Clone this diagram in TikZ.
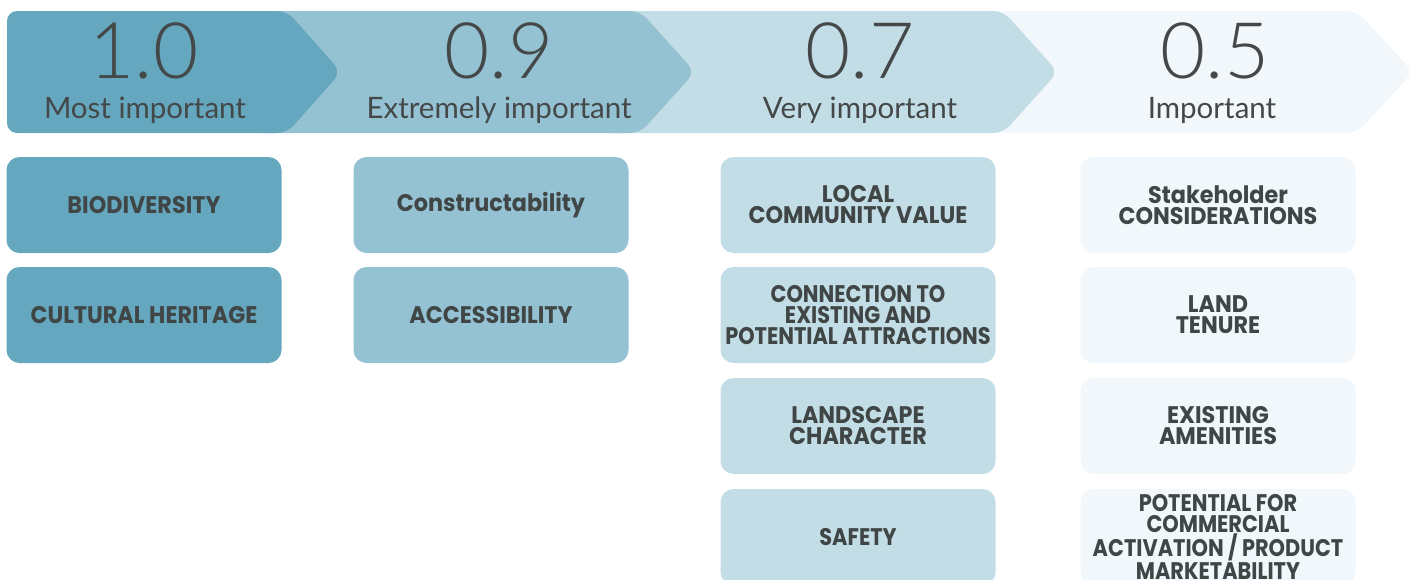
\documentclass[tikz,border=0pt]{standalone}
\usepackage{fontspec}
\setmainfont{Lato}
\newfontfamily\headfont{Lato Light}
\newfontfamily\labfont{Lato}
\newfontfamily\boxfont[FakeStretch=0.93]{Poppins}
\newfontfamily\condfont[FakeStretch=0.87]{Poppins}
\definecolor{cA}{HTML}{64A7BE}
\definecolor{cB}{HTML}{94C2D3}
\definecolor{cC}{HTML}{C2DDE5}
\definecolor{cD}{HTML}{F1F7FA}
\definecolor{hd}{HTML}{444848}
\definecolor{txt}{HTML}{404545}
\begin{document}
\begin{tikzpicture}[x=1pt,y=-1pt,
  chev/.style={rounded corners=10pt},
  box/.style={rounded corners=13pt, minimum width=275pt, minimum height=96pt, inner sep=0pt, align=center, text=txt, font=\boxfont\bfseries\fontsize{24}{21}\selectfont},
  cond/.style={font=\condfont\bfseries\fontsize{24}{21}\selectfont},
  num/.style={anchor=base, text=hd, font=\headfont\fontsize{78}{78}\selectfont, inner sep=0pt},
  lab/.style={anchor=base, text=hd, font=\labfont\fontsize{29.5}{29.5}\selectfont, inner sep=0pt}]
\useasboundingbox (0,0) rectangle (1414,579);
\clip (0,0) rectangle (1414,579);
\fill[cD, chev] (960,11) -- (1357,11) -- (1413,72) -- (1357,133) -- (960,133) -- cycle;
\fill[cC, chev] (600,11) -- (1003,11) -- (1058,72) -- (1003,133) -- (600,133) -- cycle;
\fill[cB, chev] (250,11) -- (640,11) -- (695,72) -- (640,133) -- (250,133) -- cycle;
\fill[cA, chev] (7,11) -- (287,11) -- (341,72) -- (287,133) -- (7,133) -- cycle;
\node[num] (n1) at (144,78) {1.0};
\node[lab] (l1) at (145,118) {Most important};
\node[num] (n2) at (499,78) {0.9};
\node[lab] (l2) at (499,118) {Extremely important};
\node[num] (n3) at (860,78) {0.7};
\node[lab] (l3) at (860,118) {Very important};
\node[num] (n4) at (1215,78) {0.5};
\node[lab] (l4) at (1212,118) {Important};
\node[box, fill=cA] (a1) at (144,205) {BIODIVERSITY};
\node[box, fill=cA] (a2) at (144,315) {CULTURAL HERITAGE};
\node[box, fill=cB] (b1) at (491,205) {Constructability};
\node[box, fill=cB] (b2) at (491,315) {ACCESSIBILITY};
\node[box, fill=cC] (c1) at (858,205) {LOCAL\\COMMUNITY VALUE};
\node[box, cond, fill=cC] (c2) at (858,315) {CONNECTION TO\\EXISTING AND\\POTENTIAL ATTRACTIONS};
\node[box, fill=cC] (c3) at (858,426) {LANDSCAPE\\CHARACTER};
\node[box, cond, fill=cC] (c4) at (858,537) {SAFETY};
\node[box, fill=cD] (d1) at (1218,205) {Stakeholder\\CONSIDERATIONS};
\node[box, fill=cD] (d2) at (1218,315) {LAND\\TENURE};
\node[box, fill=cD] (d3) at (1218,426) {EXISTING\\AMENITIES};
\node[box, cond, fill=cD] (d4) at (1218,537) {POTENTIAL FOR\\COMMERCIAL\\ACTIVATION / PRODUCT\\MARKETABILITY};
\end{tikzpicture}
\end{document}
